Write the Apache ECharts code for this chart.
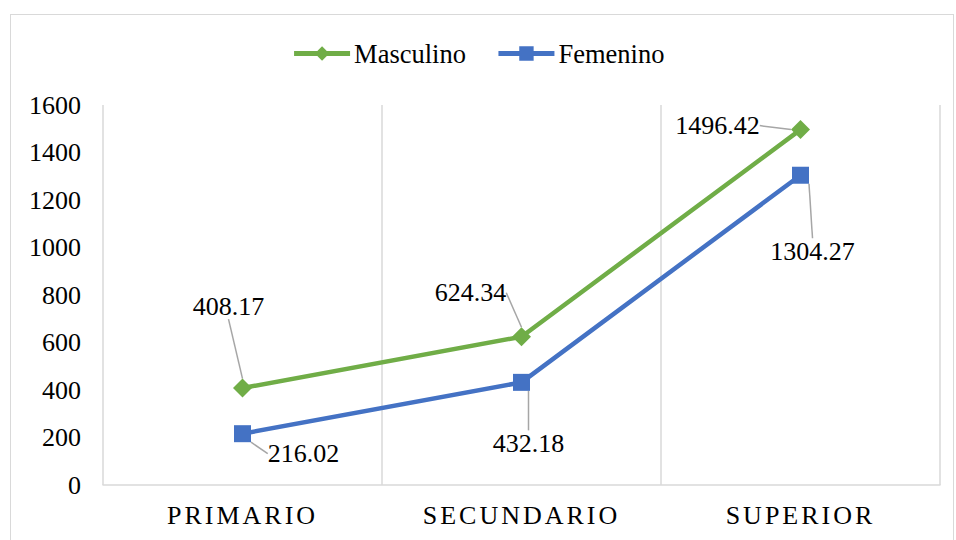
<!DOCTYPE html>
<html>
<head>
<meta charset="utf-8">
<script src="https://cdn.jsdelivr.net/npm/echarts@6/dist/echarts.min.js"></script>
<style>
  html, body { margin: 0; padding: 0; background: #fff; }
  #frame { position: absolute; left: 10px; top: 14px; width: 944px; height: 540px; border: 1px solid #d9d9d9; box-sizing: border-box; }
  #chart { position: absolute; left: 0; top: 0; width: 956px; height: 540px; }
  #chart text { font-family: "Liberation Serif", "Times New Roman", serif !important; }
</style>
</head>
<body>
<div id="frame"></div>
<div id="chart"></div>
<script>
const categories = ['PRIMARIO', 'SECUNDARIO', 'SUPERIOR'];
const masculino = [408.17, 624.34, 1496.42];
const femenino = [216.02, 432.18, 1304.27];
const yTicks = [0, 1600, 200]; // min, max, interval

// where each data label sits relative to its point
const labelOffsets = [
  [[-14, -82], [-51, -44], [-83, -4]],
  [[61, 20], [7, 61], [12, 76]]
];

const font = '"Liberation Serif", "Times New Roman", serif';
const chart = echarts.init(document.getElementById('chart'), null, { renderer: 'svg' });

function lineSeries(name, data, color, symbol, size) {
  return {
    name: name,
    type: 'line',
    data: data,
    symbol: symbol,
    symbolSize: size,
    showAllSymbol: true,
    lineStyle: { color: color, width: 4.5 },
    itemStyle: { color: color },
    label: {
      show: true,
      position: 'inside',
      color: '#000',
      fontFamily: font,
      fontSize: 26,
      formatter: p => p.value.toFixed(2)
    },
    labelLine: { show: true, lineStyle: { color: '#a6a6a6', width: 1.5 } }
  };
}

chart.setOption({
  animation: false,
  textStyle: { fontFamily: font, color: '#000' },
  legend: {
    top: 35,
    left: 'center',
    itemWidth: 56,
    itemHeight: 18,
    itemGap: 30,
    lineStyle: { width: 5 },
    textStyle: { fontFamily: font, fontSize: 26.5, color: '#000', padding: [0, 0, 0, -1] },
    data: ['Masculino', 'Femenino']
  },
  grid: { left: 103, right: 16, top: 105, bottom: 55, containLabel: false },
  xAxis: {
    type: 'category',
    data: categories,
    boundaryGap: true,
    axisLine: { lineStyle: { color: '#d9d9d9', width: 1.5 } },
    axisTick: { show: false },
    splitLine: { show: true, lineStyle: { color: '#d9d9d9', width: 1.5 } },
    axisLabel: { fontFamily: font, fontSize: 26, color: '#000', margin: 17 }
  },
  yAxis: {
    type: 'value',
    min: yTicks[0],
    max: yTicks[1],
    interval: yTicks[2],
    axisLine: { show: false },
    axisTick: { show: false },
    splitLine: { show: false },
    axisLabel: { fontFamily: font, fontSize: 26, color: '#000', margin: 22, formatter: v => String(v) }
  },
  labelLayout: function (p) {
    const o = labelOffsets[p.seriesIndex][p.dataIndex];
    return { dx: o[0], dy: o[1] };
  },
  series: [
    lineSeries('Masculino', masculino, '#70ad47', 'diamond', 19),
    lineSeries('Femenino', femenino, '#4472c4', 'rect', 17)
  ]
});

// spaced capitals on the category labels
function spaceCategories() {
  document.querySelectorAll('#chart text').forEach(t => {
    if (categories.indexOf(t.textContent) >= 0) t.style.letterSpacing = '3px';
  });
}
chart.on('finished', spaceCategories);
spaceCategories();
</script>
</body>
</html>
